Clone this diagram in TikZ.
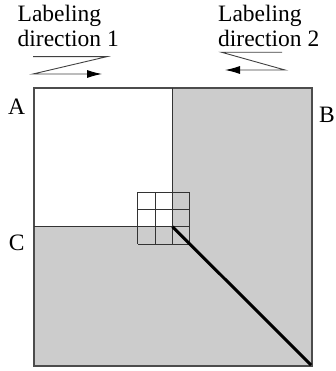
\documentclass[tikz,border=0pt]{standalone}
\usepackage{fontspec}
\setmainfont{Liberation Serif}
\usetikzlibrary{arrows.meta}

\tikzset{
  lbl/.style={font=\fontsize{23.5}{26}\selectfont, inner sep=0pt},
  dirarrow/.style={line width=0.9pt, black!75, -{Latex[length=15pt,width=8pt,black]}},
}

\begin{document}
\begin{tikzpicture}[x=1pt,y=-1pt]
	\useasboundingbox (0,0) rectangle (335,371);
	% shaded parts of the square
	\fill[black!20] (172.5,88) rectangle (312,366);
	\fill[black!20] (34,226.7) rectangle (172.5,366);
	\draw[black!70,line width=1.2pt] (34,88) rectangle (312,366);
	\draw[black!80,line width=0.9pt] (172.5,88) -- (172.5,226.7) -- (34,226.7);
	% small 3x3 grid
	\foreach \i in {0,...,3}{
		\draw[black!80,line width=0.9pt] (137.8+17.35*\i,192) -- ++(0,52);
		\draw[black!80,line width=0.9pt] (137.8,192+17.35*\i) -- ++(52,0);
	}
	\draw[line width=3pt] (172.5,226.7) -- (311,365);
	% labels
	\node[lbl,anchor=base west] (dirA1) at (17.5,21.7) {Labeling};
	\node[lbl,anchor=base west] (dirA2) at (17.5,46.7) {direction 1};
	\node[lbl,anchor=base west] (dirB1) at (218,21.7) {Labeling};
	\node[lbl,anchor=base west] (dirB2) at (218,46.7) {direction 2};
	\node[lbl] (cornA) at (16.7,107) {A};
	\node[lbl] (cornB) at (327,115) {B};
	\node[lbl] (cornC) at (16.7,243) {C};
	% direction arrows
	\draw[dirarrow] (33,56.7) -- (106.7,56.7) -- (33,74) -- (102,74);
	\draw[dirarrow] (282,52.3) -- (221.7,52.3) -- (285,70) -- (225,70);
\end{tikzpicture}
\end{document}
